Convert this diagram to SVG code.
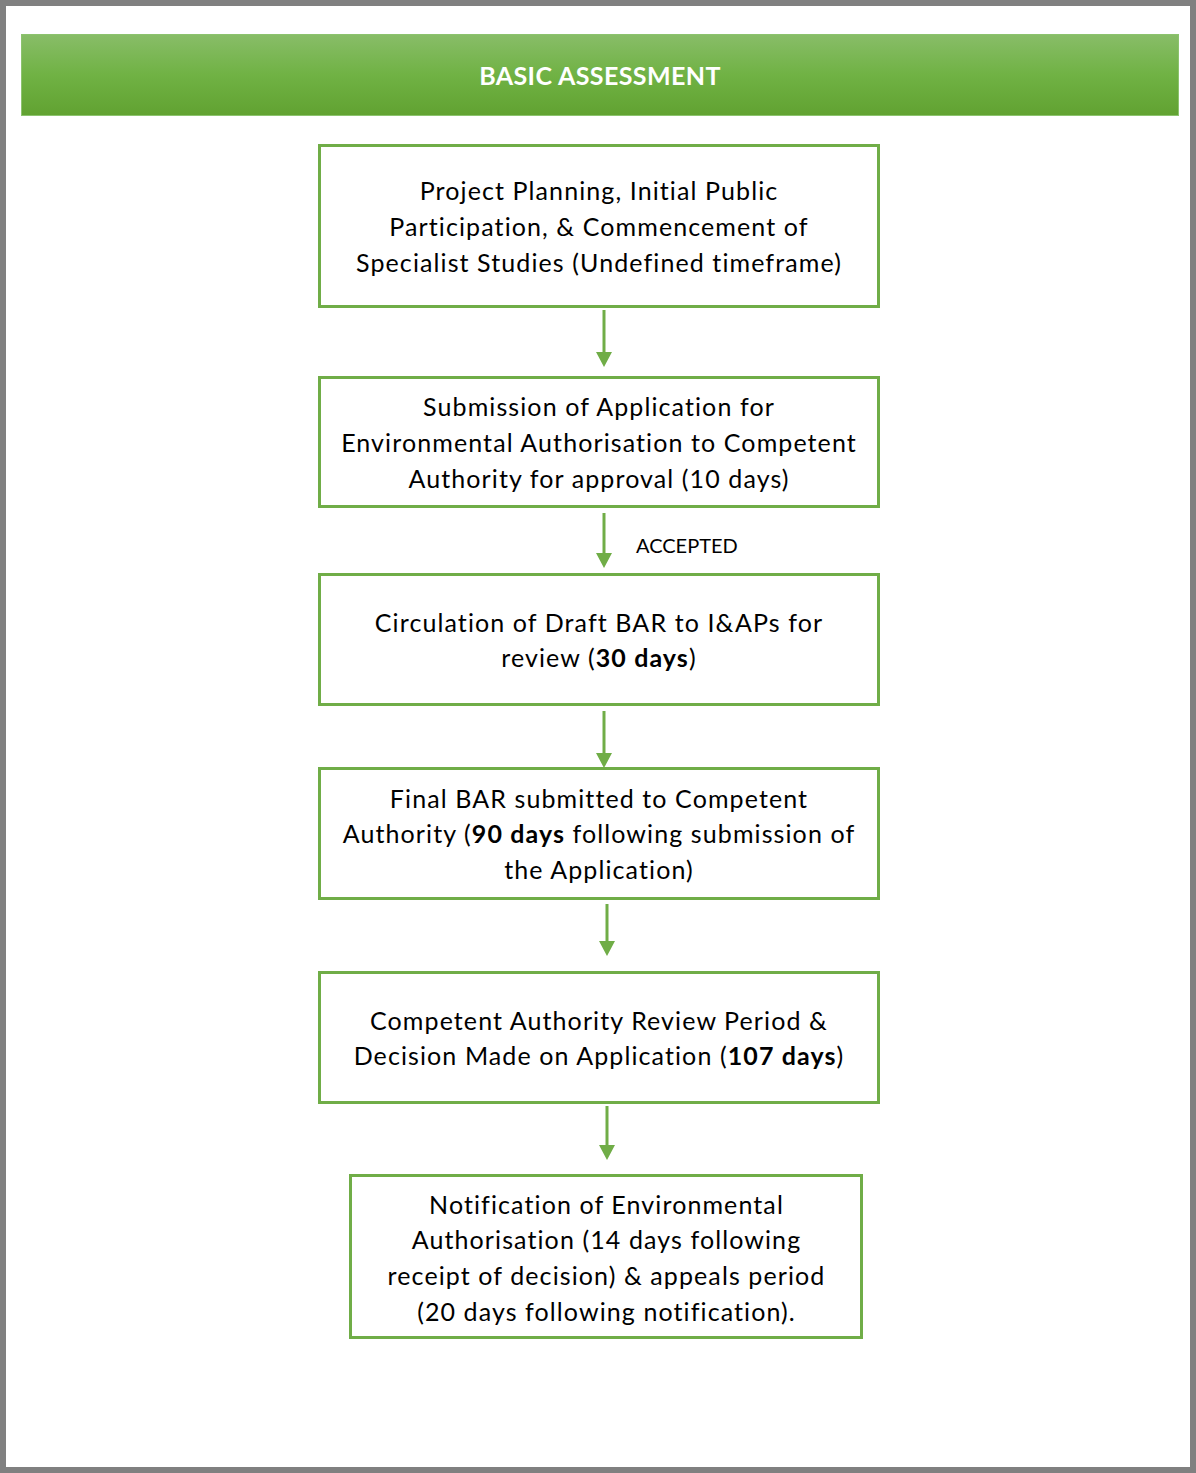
<svg xmlns="http://www.w3.org/2000/svg" width="1196" height="1473" viewBox="0 0 1196 1473">
<style>
.box{fill:#ffffff;stroke:#70ad47;stroke-width:3}
.t{font-family:Lato,"Liberation Sans",sans-serif;font-size:25px;letter-spacing:1.1px;fill:#000000;text-anchor:middle}
.b{font-weight:bold}
.conn{stroke:#70ad47;stroke-width:3;fill:none}
.head{fill:#70ad47;stroke:none}
</style>
<defs>
<linearGradient id="hg" x1="0" y1="0" x2="0" y2="1">
<stop offset="0" stop-color="#88bd68"/>
<stop offset="0.5" stop-color="#70b244"/>
<stop offset="1" stop-color="#61a231"/>
</linearGradient>
</defs>
<rect x="0" y="0" width="1196" height="1473" fill="#ffffff"/>
<rect x="3" y="3" width="1190" height="1467" fill="none" stroke="#808080" stroke-width="6"/>
<g id="header">
<rect x="21.5" y="34.5" width="1157" height="81" fill="url(#hg)" stroke="#8cc36e" stroke-width="1"/>
<text x="600" y="85" font-family="Lato,'Liberation Sans',sans-serif" font-size="25" letter-spacing="0.4" font-weight="bold" fill="#ffffff" text-anchor="middle">BASIC ASSESSMENT</text>
</g>
<g id="n1">
<rect class="box" x="319.5" y="145.5" width="559" height="161"/>
<text class="t" x="599" y="200">Project Planning, Initial Public</text>
<text class="t" x="599" y="236">Participation, &amp; Commencement of</text>
<text class="t" x="599" y="272">Specialist Studies (Undefined timeframe)</text>
</g>
<g id="n2">
<rect class="box" x="319.5" y="377.5" width="559" height="129"/>
<text class="t" x="599" y="416">Submission of Application for</text>
<text class="t" x="599" y="452">Environmental Authorisation to Competent</text>
<text class="t" x="599" y="488">Authority for approval (10 days)</text>
</g>
<g id="n3">
<rect class="box" x="319.5" y="574.5" width="559" height="130"/>
<text class="t" x="599" y="632">Circulation of Draft BAR to I&amp;APs for</text>
<text class="t" x="599" y="667">review (<tspan class="b">30 days</tspan>)</text>
</g>
<g id="n4">
<rect class="box" x="319.5" y="768.5" width="559" height="130"/>
<text class="t" x="599" y="808">Final BAR submitted to Competent</text>
<text class="t" x="599" y="843">Authority (<tspan class="b">90 days</tspan> following submission of</text>
<text class="t" x="599" y="879">the Application)</text>
</g>
<g id="n5">
<rect class="box" x="319.5" y="972.5" width="559" height="130"/>
<text class="t" x="599" y="1030">Competent Authority Review Period &amp;</text>
<text class="t" x="599" y="1065">Decision Made on Application (<tspan class="b">107 days</tspan>)</text>
</g>
<g id="n6">
<rect class="box" x="350.5" y="1175.5" width="511" height="162"/>
<text class="t" x="606.5" y="1214">Notification of Environmental</text>
<text class="t" x="606.5" y="1249">Authorisation (14 days following</text>
<text class="t" x="606.5" y="1285">receipt of decision) &amp; appeals period</text>
<text class="t" x="606.5" y="1321">(20 days following notification).</text>
</g>
<g id="connectors">
<line class="conn" x1="604" y1="310" x2="604" y2="353"/>
<polygon class="head" points="596,352 612,352 604,367"/>
<line class="conn" x1="604" y1="513" x2="604" y2="554"/>
<polygon class="head" points="596,553 612,553 604,568"/>
<text x="636" y="553" font-family="Lato,'Liberation Sans',sans-serif" font-size="20" fill="#000000">ACCEPTED</text>
<line class="conn" x1="604" y1="711" x2="604" y2="754"/>
<polygon class="head" points="596,753 612,753 604,768"/>
<line class="conn" x1="607" y1="904" x2="607" y2="942"/>
<polygon class="head" points="599,941 615,941 607,956"/>
<line class="conn" x1="607" y1="1106" x2="607" y2="1146"/>
<polygon class="head" points="599,1145 615,1145 607,1160"/>
</g>
</svg>
